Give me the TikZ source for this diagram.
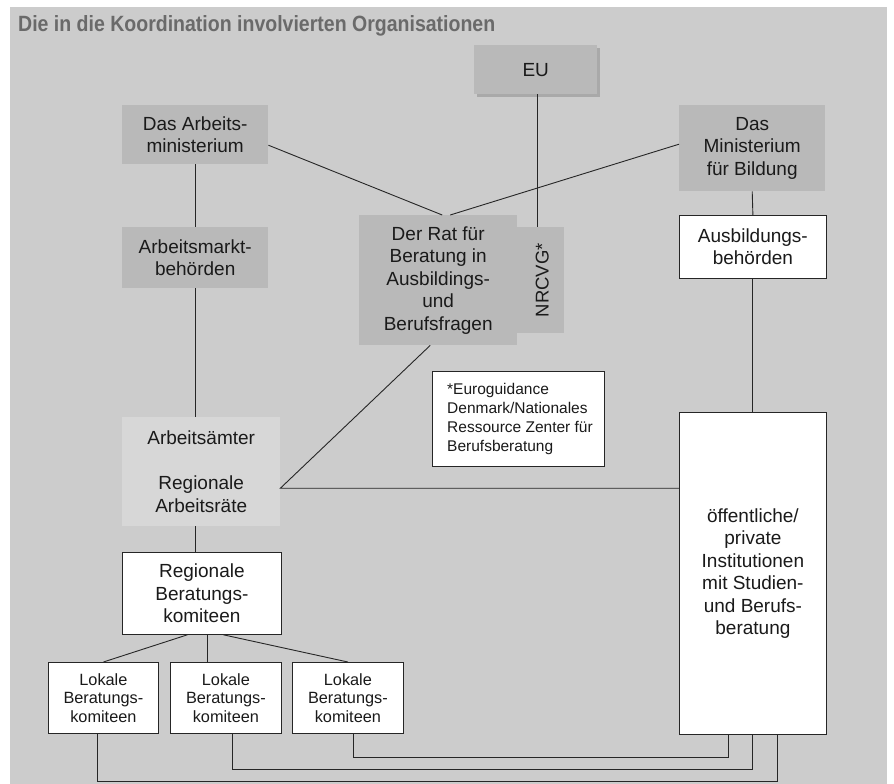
\documentclass[tikz,border=0pt]{standalone}
\usepackage{fontspec}
\setmainfont{Liberation Sans}
\usepackage{graphicx}
\usetikzlibrary{calc}
\definecolor{bg}{HTML}{CCCCCC}
\definecolor{dk}{HTML}{B9B9B9}
\definecolor{lt}{HTML}{D7D7D7}
\definecolor{sh}{HTML}{A9A9A9}
\definecolor{ink}{HTML}{1A1A1A}
\definecolor{ttl}{HTML}{6A6A6A}
\begin{document}
\begin{tikzpicture}[x=1pt,y=-1pt,
  box/.style={inner sep=0pt, align=center, text=ink, font=\fontsize{19}{22.5}\selectfont, anchor=north west},
  darkbox/.style={box, fill=dk},
  lightbox/.style={box, fill=lt},
  whitebox/.style={box, fill=white, draw=black!85, line width=0.8pt},
  small/.style={font=\fontsize{16.3}{18.5}\selectfont},
  conn/.style={draw=black!85, line width=0.9pt}]
\useasboundingbox (0,0) rectangle (894,784);
\fill[bg] (10,7) rectangle (887,784);
\node[anchor=base west, inner sep=0pt, text=ttl] (title) at (18,32) {\resizebox{477pt}{16pt}{\bfseries Die in die Koordination involvierten Organisationen}};

\fill[sh] (477,48) rectangle (600,97);
\node[darkbox, minimum width=123pt, minimum height=49pt] (eu) at (474,45) {EU};
\node[darkbox, minimum width=146pt, minimum height=59pt] (am) at (122,105) {Das Arbeits-\\ministerium};
\node[darkbox, minimum width=146pt, minimum height=86pt] (mb) at (679,105) {Das\\Ministerium\\für Bildung};
\node[darkbox, minimum width=146pt, minimum height=61pt] (amb) at (122,227) {Arbeitsmarkt-\\behörden};
\node[darkbox, minimum width=158pt, minimum height=130pt] (rat) at (359,215) {Der Rat für\\Beratung in\\Ausbildings-\\und\\Berufsfragen};
\node[darkbox, minimum width=47pt, minimum height=106pt] (nr) at (517,227) {};
\node[rotate=90, inner sep=0pt, text=ink, font=\fontsize{18.5}{22}\selectfont] (nrt) at ([xshift=1.5pt]nr.center) {NRCVG*};
\node[whitebox, minimum width=147pt, minimum height=63pt] (ab) at (679,215) {Ausbildungs-\\behörden};
\node[whitebox, minimum width=172pt, minimum height=95pt] (fn) at (432,371) {};
\node[anchor=west, inner sep=0pt, align=left, text=ink, font=\fontsize{15.5}{19}\selectfont] (fnt) at ([xshift=15pt]fn.west) {*Euroguidance\\Denmark/Nationales\\Ressource Zenter für\\Berufsberatung};
\node[lightbox, minimum width=158pt, minimum height=109pt] (aa) at (122,417) {Arbeitsämter\\\mbox{}\\Regionale\\Arbeitsräte};
\node[whitebox, minimum width=159pt, minimum height=82pt] (rb) at (122,552) {Regionale\\Beratungs-\\komiteen};
\node[whitebox, small, minimum width=110pt, minimum height=71pt] (l1) at (48,662) {Lokale\\Beratungs-\\komiteen};
\node[whitebox, small, minimum width=111pt, minimum height=71pt] (l2) at (170,662) {Lokale\\Beratungs-\\komiteen};
\node[whitebox, small, minimum width=111pt, minimum height=71pt] (l3) at (292,662) {Lokale\\Beratungs-\\komiteen};
\node[whitebox, minimum width=147pt, minimum height=322pt] (ob) at (679,412) {öffentliche/\\private\\Institutionen\\mit Studien-\\und Berufs-\\beratung};

% connectors
\draw[conn] ([yshift=-10.5pt]am.east) -- ([xshift=4pt]rat.north);
\draw[conn] ([xshift=12pt]rat.north) -- ([yshift=4pt]mb.west);
\coordinate (eub) at ([xshift=1.5pt]eu.south);
\draw[conn] (eub) -- (eub |- nr.north);
\draw[conn] (am.south) -- (amb.north);
\draw[conn] (amb.south) -- (amb.south |- aa.north);
\draw[conn] (amb.south |- aa.south) -- (amb.south |- rb.north);
\coordinate (aar) at ([yshift=-16.5pt]aa.east);
\draw[conn] ([xshift=-8pt]rat.south) -- (aar) -- (aar -| ob.west);
\draw[conn] (mb.south) -- (ab.north);
\draw[conn] (ab.south) -- (ab.south |- ob.north);
\draw[conn] ([xshift=-14.5pt]rb.south) -- (l1.north);
\coordinate (rbm) at ([xshift=5.5pt]rb.south);
\draw[conn] (rbm) -- (rbm |- l2.north);
\draw[conn] ([xshift=21.5pt]rb.south) -- (l3.north);
\coordinate (ob1) at ([xshift=-24.5pt]ob.south);
\coordinate (ob3) at ([xshift=24.5pt]ob.south);
\draw[conn] ([xshift=5.5pt]l3.south) -- ++(0,24) -| (ob1);
\draw[conn] ([xshift=6.5pt]l2.south) -- ++(0,36) -| (ob.south);
\draw[conn] ([xshift=-6pt]l1.south) -- ++(0,48) -| (ob3);
\end{tikzpicture}
\end{document}
